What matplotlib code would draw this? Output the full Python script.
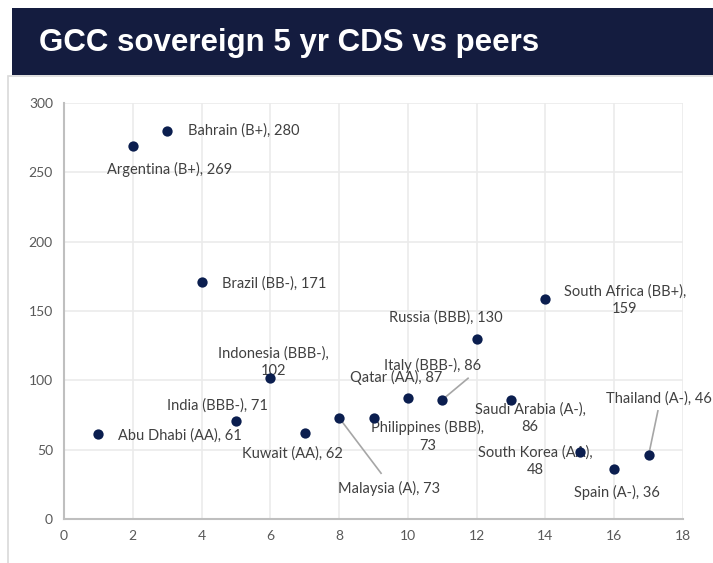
import matplotlib

matplotlib.use("Agg")
import matplotlib.pyplot as plt
from matplotlib.patches import Rectangle

# Sovereign CDS spreads (bps) by country, plotted against an index position.
COUNTRIES = ["Abu Dhabi (AA)", "Argentina (B+)", "Bahrain (B+)", "Brazil (BB-)",
             "India (BBB-)", "Indonesia (BBB-)", "Kuwait (AA)", "Malaysia (A)",
             "Philippines (BBB)", "Qatar (AA)", "Italy (BBB-)", "Russia (BBB)",
             "Saudi Arabia (A-)", "South Africa (BB+)", "South Korea (AA)",
             "Spain (A-)", "Thailand (A-)"]
POSITION = [1, 2, 3, 4, 5, 6, 7, 8, 9, 10, 11, 12, 13, 14, 15, 16, 17]
CDS = [61, 269, 280, 171, 71, 102, 62, 73, 73, 87, 86, 130, 86, 159, 48, 36, 46]

# label placement: (x, y, ha, wrap after the comma, leader line)
LABEL_POS = {
    "Abu Dhabi (AA)": (1.57, 60, "left", False, False),
    "Argentina (B+)": (3.08, 252, "center", False, False),
    "Bahrain (B+)": (3.61, 280, "left", False, False),
    "Brazil (BB-)": (4.59, 170, "left", False, False),
    "India (BBB-)": (4.45, 82, "center", False, False),
    "Indonesia (BBB-)": (6.08, 113, "center", True, False),
    "Kuwait (AA)": (6.63, 47, "center", False, False),
    "Malaysia (A)": (9.45, 22, "center", False, True),
    "Philippines (BBB)": (10.58, 59.5, "center", True, False),
    "Qatar (AA)": (9.65, 102, "center", False, False),
    "Italy (BBB-)": (10.73, 111, "center", False, True),
    "Russia (BBB)": (11.11, 145, "center", False, False),
    "Saudi Arabia (A-)": (13.55, 72.5, "center", True, False),
    "South Africa (BB+)": (16.31, 158, "center", True, False),
    "South Korea (AA)": (13.70, 41.5, "center", True, False),
    "Spain (A-)": (16.08, 19, "center", False, False),
    "Thailand (A-)": (17.30, 87, "center", False, True),
}
LEADER_END = {
    "Malaysia (A)": (9.22, 33),
    "Italy (BBB-)": (11.75, 101.5),
    "Thailand (A-)": (17.27, 78),
}

NAVY = "#0B1E4F"
BAND = "#141C3F"
TXT = "#404040"

fig = plt.figure(figsize=(7.13, 5.63), dpi=100)

# outer panel frame and title band
fig.add_artist(Rectangle((8 / 713, -0.05), 1.0, 1 - 76 / 563 + 0.05,
                         transform=fig.transFigure, facecolor="white",
                         edgecolor="#D9D9D9", linewidth=1.2, zorder=0))
fig.add_artist(Rectangle((12 / 713, 1 - 75 / 563), 1.0, 67 / 563,
                         transform=fig.transFigure, facecolor=BAND,
                         edgecolor="none", zorder=1))
fig.text(39 / 713, 1 - 51 / 563, "GCC sovereign 5 yr CDS vs peers",
         color="white", fontsize=22.5, fontweight="bold",
         family="Liberation Sans", va="baseline", ha="left")

ax = fig.add_axes([64 / 713, 1 - 519 / 563, 619 / 713, 416 / 563])
ax.set_xlim(0, 18)
ax.set_ylim(0, 300)
ax.set_xticks(range(0, 19, 2))
ax.set_yticks(range(0, 301, 50))
ax.grid(True, color="#EBEBEB", linewidth=1.2)
ax.set_axisbelow(True)
for side in ("top", "right"):
    ax.spines[side].set_visible(False)
for side in ("left", "bottom"):
    ax.spines[side].set_color("#BFBFBF")
    ax.spines[side].set_linewidth(1.5)
ax.tick_params(length=0, labelsize=10, labelcolor="#595959", pad=8)
for lbl in ax.get_xticklabels() + ax.get_yticklabels():
    lbl.set_family("Lato")

ax.scatter(POSITION, CDS, s=55, color=NAVY, zorder=4, linewidths=0)

for name, x, y in zip(COUNTRIES, POSITION, CDS):
    lx, ly, ha, wrap, leader = LABEL_POS[name]
    text = f"{name},\n{y}" if wrap else f"{name}, {y}"
    ax.text(lx, ly, text, ha=ha, va="center", fontsize=10.5, color=TXT,
            family="Lato", linespacing=1.3, zorder=3)
    if leader:
        ex, ey = LEADER_END[name]
        ax.plot([x, ex], [y, ey], color="#A6A6A6", linewidth=1.2, zorder=3)

fig.savefig("out.png", dpi=100)
